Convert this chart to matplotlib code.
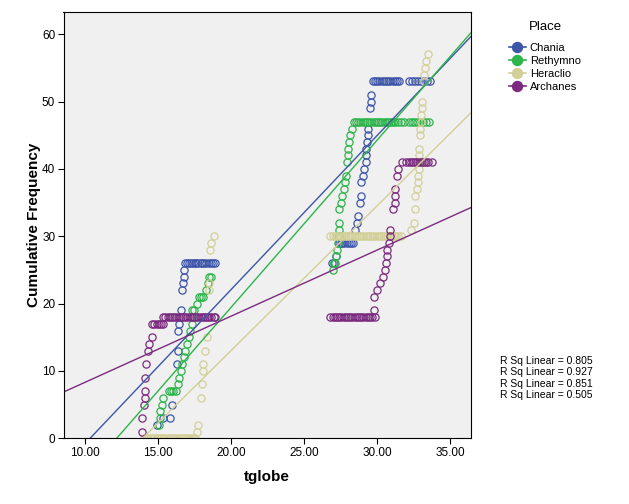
import matplotlib
matplotlib.use("Agg")
import matplotlib.pyplot as plt
from matplotlib.lines import Line2D
import numpy as np

plt.rcParams['font.family'] = ['Liberation Sans', 'DejaVu Sans']

places = ["Chania", "Rethymno", "Heraclio", "Archanes"]
colors = ["#3D56A8", "#2DB44A", "#D3CF98", "#7B2B7F"]
r2_labels = ["R Sq Linear = 0.805", "R Sq Linear = 0.927",
             "R Sq Linear = 0.851", "R Sq Linear = 0.505"]

# fitted line coefficients (slope, intercept)
fit_slope = [2.288, 2.483, 2.15, 0.982]
fit_intercept = [-23.66, -30.2, -29.96, -1.5]

# ---- Chania ----
chania_x = [14.9, 15.3, 15.8, 15.95, 16.3, 16.35, 16.35, 16.4, 16.55, 16.6, 16.7, 16.75, 16.8, 16.85,
            16.95, 17.1, 17.25, 17.4, 17.5, 17.6, 17.75, 17.9, 18.0, 18.15, 18.3, 18.45, 18.6, 18.75, 18.9,
            26.9, 27.05, 27.2, 27.35, 27.5, 27.6, 27.75, 27.9, 28.05, 28.2, 28.35, 28.5, 28.6, 28.7, 28.8,
            28.9, 28.9, 29.05, 29.1, 29.2, 29.2, 29.25, 29.3, 29.35, 29.4, 29.5, 29.55, 29.55,
            29.7, 29.85, 30.0, 30.15, 30.3, 30.45, 30.6, 30.75, 30.9, 31.05, 31.2, 31.35, 31.5,
            32.2, 32.4, 32.6, 32.8, 33.0, 33.2, 33.4, 33.6]
chania_y = [2, 3, 3, 5, 11, 13, 16, 17, 19, 22, 23, 24, 25, 26,
            26, 26, 26, 26, 26, 26, 26, 26, 26, 26, 26, 26, 26, 26, 26,
            26, 26, 27, 29, 29, 29, 29, 29, 29, 29, 29, 31, 32, 33, 35,
            36, 38, 39, 40, 41, 42, 43, 44, 45, 46, 49, 50, 51,
            53, 53, 53, 53, 53, 53, 53, 53, 53, 53, 53, 53, 53,
            53, 53, 53, 53, 53, 53, 53, 53]

# ---- Rethymno ----
rethymno_x = [15.05, 15.1, 15.1, 15.25, 15.3, 15.75, 15.9, 16.05, 16.2, 16.35, 16.45, 16.55, 16.65, 16.75,
              16.85, 16.95, 17.1, 17.2, 17.3, 17.3, 17.35, 17.45, 17.65, 17.8, 17.95, 18.1, 18.3, 18.4,
              18.5, 18.65,
              27.0, 27.05, 27.1, 27.2, 27.25, 27.3, 27.35, 27.35, 27.4, 27.4, 27.5, 27.6, 27.7, 27.8,
              27.85, 27.9, 28.0, 28.0, 28.1, 28.15, 28.25,
              28.4, 28.55, 28.7, 28.85, 29.0, 29.15, 29.3, 29.45, 29.6, 29.75, 29.9, 30.05, 30.2, 30.35,
              30.5, 30.65, 30.8, 30.95, 31.1, 31.25, 31.4, 31.6, 31.8, 32.15, 32.35, 32.55, 32.75,
              32.95, 33.15, 33.35, 33.55]
rethymno_y = [2, 3, 4, 5, 6, 7, 7, 7, 7, 8, 9, 10, 11, 12,
              13, 14, 15, 16, 17, 18, 19, 19, 20, 21, 21, 21, 22, 23,
              24, 24,
              25, 26, 26, 27, 28, 29, 30, 31, 32, 34, 35, 36, 37, 38,
              39, 41, 42, 43, 44, 45, 46,
              47, 47, 47, 47, 47, 47, 47, 47, 47, 47, 47, 47, 47, 47,
              47, 47, 47, 47, 47, 47, 47, 47, 47, 47, 47, 47, 47,
              47, 47, 47, 47]

# ---- Heraclio ----
heraclio_x = [14.0, 14.15, 14.3, 14.45, 14.6, 14.75, 14.9, 15.05, 15.2, 15.35, 15.5, 15.65, 15.8, 15.95,
              16.1, 16.25, 16.4, 16.55, 16.7, 16.85, 17.0, 17.15, 17.3, 17.45, 17.55,
              17.65, 17.75, 17.9, 18.0, 18.1, 18.1, 18.2, 18.35, 18.45, 18.5, 18.55, 18.65, 18.8,
              26.8, 26.95, 27.1, 27.25, 27.4, 27.55, 27.7, 27.85, 28.0, 28.15, 28.3, 28.45, 28.6,
              28.75, 28.9, 29.05, 29.2, 29.35, 29.5, 29.65, 29.8, 29.95, 30.1, 30.25, 30.4, 30.55,
              30.7, 30.85, 31.0, 31.15, 31.3, 31.45, 31.6,
              32.3, 32.5, 32.6, 32.6, 32.7, 32.8, 32.8, 32.85, 32.85, 32.85, 32.85, 32.95, 32.95,
              33.0, 33.0, 33.05, 33.05, 33.2, 33.2, 33.3, 33.35, 33.5]
heraclio_y = [0, 0, 0, 0, 0, 0, 0, 0, 0, 0, 0, 0, 0, 0,
              0, 0, 0, 0, 0, 0, 0, 0, 0, 0, 0,
              1, 2, 6, 8, 10, 11, 13, 15, 22, 23, 28, 29, 30,
              30, 30, 30, 30, 30, 30, 30, 30, 30, 30, 30, 30, 30,
              30, 30, 30, 30, 30, 30, 30, 30, 30, 30, 30, 30, 30,
              30, 30, 30, 30, 30, 30, 30,
              31, 32, 34, 36, 37, 38, 39, 40, 41, 42, 43, 45, 46,
              47, 48, 49, 50, 53, 54, 55, 56, 57]

# ---- Archanes ----
archanes_x = [13.9, 13.9, 14.0, 14.1, 14.1, 14.1, 14.2, 14.3, 14.4, 14.6,
              14.6, 14.75, 14.9, 15.05, 15.2, 15.35,
              15.3, 15.5, 15.65, 15.8, 15.95, 16.1, 16.25, 16.4, 16.55, 16.7, 16.85, 17.0, 17.15,
              17.3, 17.45, 17.6, 17.75, 17.9, 18.05, 18.2, 18.35, 18.5, 18.65, 18.8, 18.9,
              26.8, 26.95, 27.1, 27.25, 27.4, 27.55, 27.7, 27.85, 28.0, 28.15, 28.3, 28.45, 28.6,
              28.75, 28.9, 29.05, 29.2, 29.35, 29.5, 29.65, 29.85,
              29.8, 29.8, 30.0, 30.2, 30.4, 30.5, 30.6, 30.65, 30.7, 30.8, 30.85, 30.9, 31.1, 31.2,
              31.2, 31.2, 31.35, 31.45, 31.7,
              32.0, 32.15, 32.3, 32.45, 32.6, 32.75, 32.9, 33.05, 33.2, 33.35, 33.5, 33.75]
archanes_y = [1, 3, 5, 6, 7, 9, 11, 13, 14, 15,
              17, 17, 17, 17, 17, 17,
              18, 18, 18, 18, 18, 18, 18, 18, 18, 18, 18, 18, 18,
              18, 18, 18, 18, 18, 18, 18, 18, 18, 18, 18, 18,
              18, 18, 18, 18, 18, 18, 18, 18, 18, 18, 18, 18, 18,
              18, 18, 18, 18, 18, 18, 18, 18,
              19, 21, 22, 23, 24, 25, 26, 27, 28, 29, 30, 31, 34, 35,
              36, 37, 39, 40, 41,
              41, 41, 41, 41, 41, 41, 41, 41, 41, 41, 41, 41]

series_x = [chania_x, rethymno_x, heraclio_x, archanes_x]
series_y = [chania_y, rethymno_y, heraclio_y, archanes_y]

x_ticks = [10, 15, 20, 25, 30, 35]
y_ticks = [0, 10, 20, 30, 40, 50, 60]

fig = plt.figure(figsize=(6.29, 5.04), dpi=100)
ax = fig.add_axes([63.5 / 629, 65.7 / 504, (471 - 63.5) / 629, (438.3 - 12) / 504])
ax.set_facecolor("#F0F0F0")

xlim = (8.52, 36.42)
ylim = (0, 63.3)

for xs, ys, c in zip(series_x, series_y, colors):
    ax.plot(xs, ys, linestyle="none", marker="o", markersize=5.2,
            markerfacecolor="none", markeredgecolor=c, markeredgewidth=0.9)

xx = np.array(xlim)
for s, b, c in zip(fit_slope, fit_intercept, colors):
    ax.plot(xx, s * xx + b, color=c, linewidth=1.0)

ax.set_xlim(*xlim)
ax.set_ylim(*ylim)
ax.set_xticks(x_ticks)
ax.set_xticklabels([f"{t:.2f}" for t in x_ticks], fontsize=8.5)
ax.set_yticks(y_ticks)
ax.set_yticklabels([str(t) for t in y_ticks], fontsize=8.5)
ax.tick_params(direction="out", length=4, width=0.8, colors="black", pad=2)
for sp in ax.spines.values():
    sp.set_linewidth(0.8)
    sp.set_color("black")

ax.set_xlabel("tglobe", fontsize=11, fontweight="bold", labelpad=8)
ax.set_ylabel("Cumulative Frequency", fontsize=11, fontweight="bold", labelpad=0.5)

fig.text(545 / 629, 1 - 27 / 504, "Place", fontsize=9.5, ha="center", va="center")
handles = [Line2D([0], [0], color=c, marker="o", markersize=7.2, markerfacecolor=c,
                  markeredgecolor=c, linewidth=1.2) for c in colors]
leg = fig.legend(handles, places, frameon=False, loc="upper left",
                 bbox_to_anchor=(503 / 629, 1 - 37 / 504), fontsize=8,
                 handlelength=1.6, handletextpad=0.3, labelspacing=0.28, borderpad=0)

for i, t in enumerate(r2_labels):
    fig.text(500 / 629, 1 - (361 + i * 11.3) / 504, t, fontsize=7.5, va="center", ha="left")

fig.savefig("out.png", dpi=100)
